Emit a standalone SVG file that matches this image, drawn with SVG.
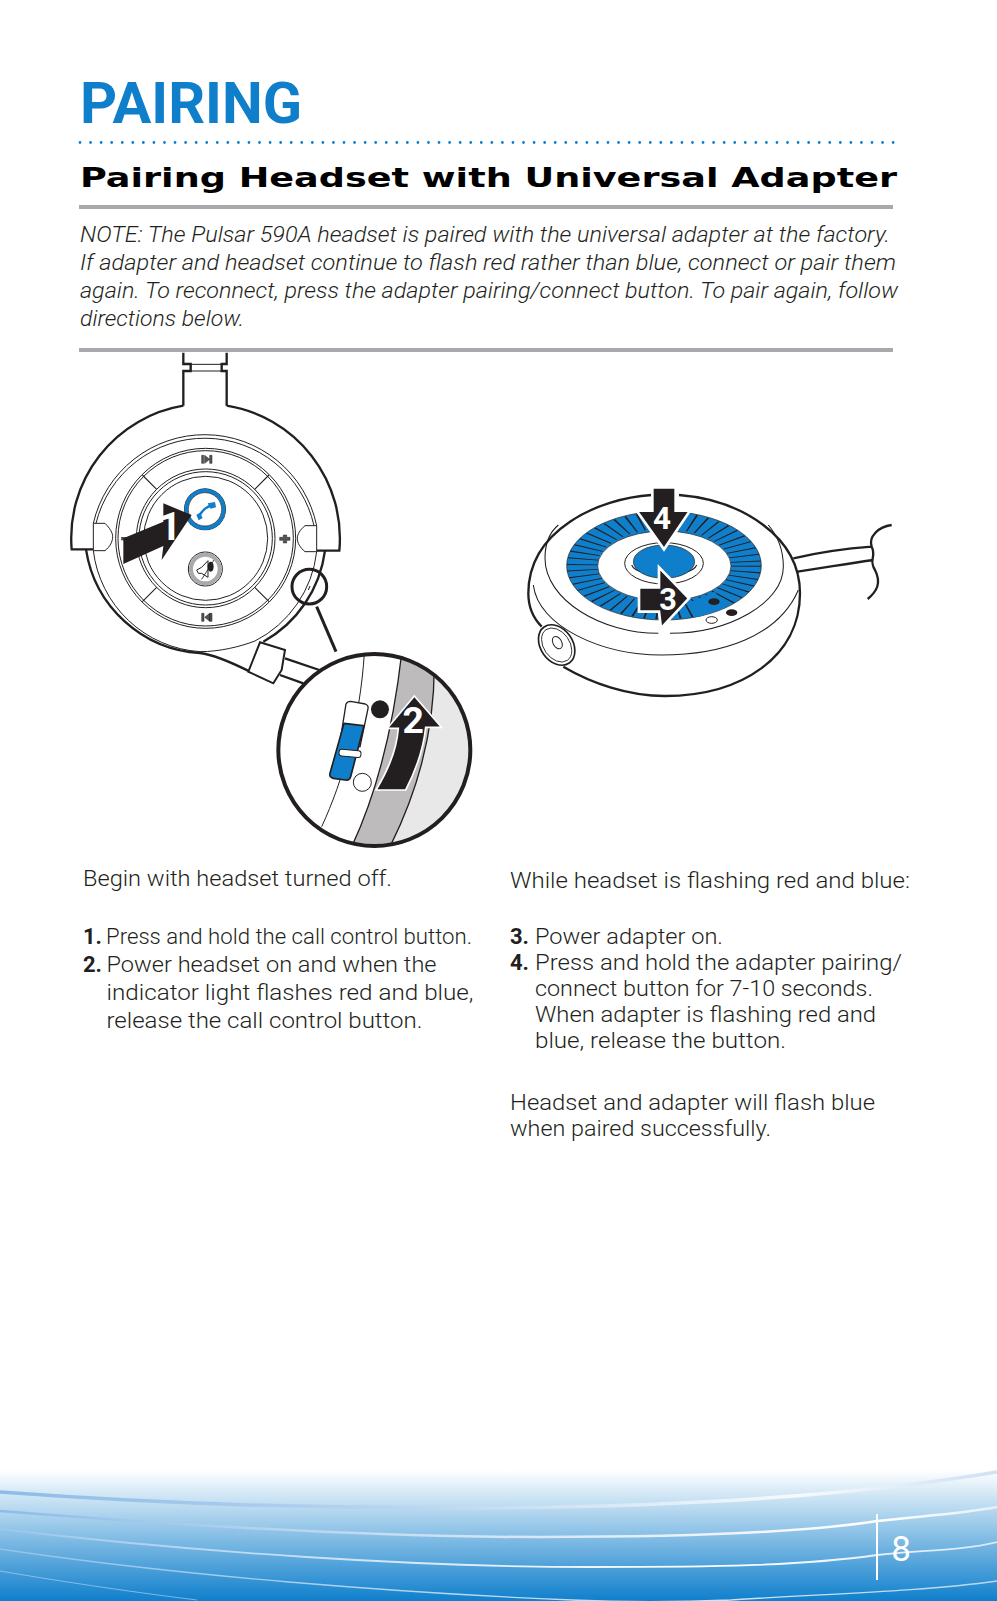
<svg xmlns="http://www.w3.org/2000/svg" width="997" height="1601" viewBox="0 0 997 1601">
<style>
text{font-family:Roboto,"Liberation Sans",sans-serif;fill:#231f20}
.b{font-size:22px;font-weight:300}
.bn{font-size:22px;font-weight:700}
.n{font-size:21.5px;font-weight:300;font-style:italic}
.o{fill:none;stroke:#231f20;stroke-width:7}
.t{fill:none;stroke:#231f20;stroke-width:3}
.m{fill:none;stroke:#231f20;stroke-width:3.2}
.a{fill:#231f20;stroke:#fff;stroke-width:8;stroke-linejoin:miter}
.al{fill:#fff;font-weight:700;text-anchor:middle}
.g{fill:#555;stroke:#231f20;stroke-width:1.5}
</style>
<defs>
<linearGradient id="fg" x1="0" y1="0" x2="0" y2="1"><stop offset="0" stop-color="#fff"/><stop offset="1" stop-color="#0f7fcc"/></linearGradient>
<linearGradient id="c1" x1="0" y1="0" x2="1" y2="0"><stop offset="0" stop-color="#8dbce8"/><stop offset=".4" stop-color="#b9d4ef"/><stop offset=".8" stop-color="#f6fafd"/><stop offset="1" stop-color="#cfe1f4"/></linearGradient>
<linearGradient id="c2" x1="0" y1="0" x2="1" y2="0"><stop offset="0" stop-color="#8dbce8"/><stop offset=".5" stop-color="#d5e5f5"/><stop offset=".88" stop-color="#fff"/><stop offset="1" stop-color="#e5f0fa"/></linearGradient>
<linearGradient id="c3" x1="0" y1="0" x2="1" y2="0"><stop offset="0" stop-color="#9cc6ec"/><stop offset=".7" stop-color="#fff"/><stop offset="1" stop-color="#d8e8f6"/></linearGradient>
<clipPath id="ring"><path clip-rule="evenodd" d="M155,287a292,163 0 1,0 584,0a292,163 0 1,0 -584,0ZM248,288a200,105 0 1,0 400,0a200,105 0 1,0 -400,0Z"/></clipPath>
<clipPath id="lens"><circle cx="343" cy="570" r="288"/></clipPath>
</defs>

<g id="title">
<text x="80" y="123" font-size="57.6" font-weight="700" style="fill:#0f7fcc" textLength="222" lengthAdjust="spacingAndGlyphs">PAIRING</text>
<line x1="80" y1="142.5" x2="895" y2="142.5" stroke="#0f7fcc" stroke-width="2.8" stroke-linecap="round" stroke-dasharray="0 10.56"/>
<text x="80" y="187" font-size="26" font-weight="700" style="font-family:'DejaVu Sans',sans-serif;fill:#000" textLength="817" lengthAdjust="spacingAndGlyphs">Pairing Headset with Universal Adapter</text>
<rect x="79" y="205" width="814" height="4" fill="#a7a9ac"/>
</g>

<g id="note">
<text class="n" x="80" y="241.5" textLength="810" lengthAdjust="spacingAndGlyphs">NOTE: The Pulsar 590A headset is paired with the universal adapter at the factory.</text>
<text class="n" x="80" y="270" textLength="816" lengthAdjust="spacingAndGlyphs">If adapter and headset continue to flash red rather than blue, connect or pair them</text>
<text class="n" x="80" y="298" textLength="818" lengthAdjust="spacingAndGlyphs">again. To reconnect, press the adapter pairing/connect button. To pair again, follow</text>
<text class="n" x="80" y="326" textLength="164" lengthAdjust="spacingAndGlyphs">directions below.</text>
<rect x="79" y="348" width="814" height="4" fill="#a7a9ac"/>
</g>

<g id="headset" transform="translate(60,340) scale(.33333)">
<path class="o" d="M370,38V72H392V93H370V197M500,38V72H485V93H500V197"/>
<rect class="t" x="392" y="73" width="93" height="20"/>
<path class="o" d="M100,628H35A403,403 0 0 1 370,197M500,197A403,403 0 0 1 838,632H770"/>
<path class="o" d="M78,628A367,367 0 0 0 420,939C470,945 530,975 570,995M795,632A367,367 0 0 1 610,905"/>
<path class="t" d="M100,632A345,345 0 0 0 420,935C480,935 540,920 585,903A345,345 0 0 0 770,635"/>
<path class="t" d="M100,550A343,343 0 0 1 770,557M108,550A336,336 0 0 1 762,557"/>
<path fill="#fff" stroke="#231f20" stroke-width="3" d="M100,550H135C150,565 158,578 158,590C158,605 150,620 135,632H100Z"/>
<path fill="#fff" stroke="#231f20" stroke-width="3" d="M770,557H735C720,570 712,582 712,595C712,610 720,622 735,635H770Z"/>
<circle class="t" cx="437" cy="595" r="270"/>
<circle class="t" cx="437" cy="595" r="263"/>
<circle class="t" cx="437" cy="595" r="208"/>
<circle class="t" cx="437" cy="595" r="200"/>
<circle class="t" cx="437" cy="595" r="186"/>
<path class="m" d="M247,405L290,448M627,405L584,448M247,785L290,742M627,785L584,742"/>
<path class="g" d="M425,346h6v24h-6zM434,346l15,12l-15,12zM449,346h7v24h-7z"/>
<path class="g" d="M425,820h7v24h-7zM449,820l-15,12l15,12zM449,820h7v24h-7z"/>
<path class="g" d="M670,585h10v7h10v9h-10v8h-10v-8h-11v-9h11z"/>
<rect class="g" x="185" y="592" width="14" height="8"/>
<circle cx="435" cy="508" r="63" fill="#231f20"/>
<circle cx="435" cy="508" r="56" fill="#fff" stroke="#0f7fcc" stroke-width="12"/>
<circle cx="435" cy="508" r="50" fill="#fff" stroke="#231f20" stroke-width="2"/>
<path d="M416,532C425,512 442,497 460,496" fill="none" stroke="#0f7fcc" stroke-width="8"/>
<path fill="#0f7fcc" d="M443,490L465,486L468,502L452,506ZM409,524L420,518L428,534L416,541Z"/>
<circle cx="436" cy="687" r="51" fill="#fff" stroke="#231f20" stroke-width="3"/>
<circle cx="436" cy="687" r="43" fill="none" stroke="#a7a9ac" stroke-width="12"/>
<path fill="#fff" stroke="#231f20" stroke-width="3" d="M410,690L425,682L444,662V712L425,700L415,700Z"/>
<ellipse cx="452" cy="680" rx="9" ry="15" fill="#231f20"/>
<path d="M425,718L462,660" stroke="#231f20" stroke-width="2.5"/>
<circle cx="748" cy="740" r="52" class="o" style="stroke-width:9"/>
<path d="M770,800L828,935" stroke="#231f20" stroke-width="9"/>
<path d="M745,750l5,-12" stroke="#231f20" stroke-width="3"/>
<path fill="#fff" stroke="#231f20" stroke-width="6" d="M600,907L675,930L665,990L640,1030L565,995Z"/>
<path class="o" d="M675,955L778,990M660,1005L730,1030"/>
<path class="a" style="stroke:none" d="M190,595L310,545V490L395,525L305,660L310,618L190,672Z"/>
<text class="al" x="330" y="600" font-size="118">1</text>
</g>

<g id="lens" transform="translate(260,560) scale(.33333)">
<circle cx="343" cy="570" r="288" fill="#fff"/>
<g clip-path="url(#lens)">
<path fill="#e8e8e9" d="M522,280C530,500 470,700 390,860H700V280Z"/>
<path fill="#bdbbbc" stroke="#231f20" stroke-width="4" d="M425,280C400,500 350,700 275,860H390C470,700 530,500 522,280Z"/>
<path fill="none" stroke="#231f20" stroke-width="3" d="M313,280C300,480 250,660 185,800"/>
<path fill="#fff" stroke="#231f20" stroke-width="4" d="M258,432Q262,424 272,424L316,432Q326,436 324,446L300,560L240,545Z"/>
<path fill="#0f7fcc" stroke="#231f20" stroke-width="5" d="M252,490L312,497L272,650Q268,662 256,660L220,655Q207,652 210,640Z"/>
<rect x="237" y="570" width="66" height="20" rx="8" fill="#fff" stroke="#231f20" stroke-width="3" transform="rotate(5 270 580)"/>
<circle cx="360" cy="448" r="27" fill="#231f20"/>
<circle cx="307" cy="667" r="27" fill="#fff" stroke="#231f20" stroke-width="3"/>
<path class="a" style="stroke-width:5" d="M463,408L545,502H497C490,570 468,630 437,690H348C385,630 410,570 415,505H382Z"/>
<text class="al" x="460" y="520" font-size="112">2</text>
</g>
<circle cx="343" cy="570" r="288" fill="none" stroke="#231f20" stroke-width="12"/>
</g>

<g id="adapter" transform="translate(515,470) scale(.33333)">
<path class="o" d="M835,265C900,250 1000,235 1070,230M848,305C920,295 1000,280 1075,270M1130,165C1090,170 1060,200 1070,230C1085,260 1060,270 1080,300C1100,340 1085,365 1058,387"/>
<path fill="#fff" d="M410,75C250,85 40,180 40,370C40,410 55,445 80,470L145,590C230,640 340,678 450,678C680,678 855,560 855,370C855,200 680,90 492,75Z"/>
<path class="o" d="M410,75C250,85 40,180 40,370C40,410 55,445 80,470M145,590C230,640 340,678 450,678C680,678 855,560 855,370C855,200 680,90 492,75"/>
<path class="m" d="M130,165C100,190 90,230 90,265C90,390 260,490 430,490M465,490C640,490 805,400 805,290C805,240 790,200 760,165"/>
<path class="m" d="M55,345C70,470 260,555 440,555C620,555 790,500 850,360"/>
<ellipse cx="125" cy="525" rx="48" ry="66" transform="rotate(-35 125 525)" fill="#fff" stroke="#231f20" stroke-width="5"/>
<ellipse cx="125" cy="525" rx="39" ry="56" transform="rotate(-35 125 525)" fill="none" stroke="#231f20" stroke-width="2.5"/>
<ellipse cx="127" cy="518" rx="13" ry="20" transform="rotate(-30 127 518)" fill="none" stroke="#231f20" stroke-width="3"/>
<path fill="#0f7fcc" fill-rule="evenodd" stroke="#231f20" stroke-width="2" d="M155,287a292,163 0 1,0 584,0a292,163 0 1,0 -584,0ZM248,288a200,105 0 1,0 400,0a200,105 0 1,0 -400,0Z"/>
<g clip-path="url(#ring)">
<circle cx="447" cy="287" r="246" transform="translate(447 287) scale(1 .55) translate(-447 -287)" fill="none" stroke="#231f20" stroke-width="92" stroke-dasharray="5 26"/>
<path fill="#0f7fcc" d="M530,395L600,365L660,450L540,470Z"/>
</g>
<ellipse cx="447" cy="280" rx="118" ry="62" fill="none" stroke="#231f20" stroke-width="3"/>
<path class="m" d="M350,285C365,325 530,325 545,285"/>
<ellipse cx="447" cy="275" rx="92" ry="50" fill="#0f7fcc" stroke="#231f20" stroke-width="2"/>
<ellipse cx="597" cy="395" rx="17" ry="10" fill="#231f20"/>
<ellipse cx="650" cy="428" rx="17" ry="10" fill="#231f20"/>
<ellipse cx="590" cy="450" rx="17" ry="10" fill="#fff" stroke="#231f20" stroke-width="3"/>
<path class="a" d="M412,52H482V122H525L447,238L365,122H412Z"/>
<text class="al" x="441" y="176" font-size="94">4</text>
<path class="a" d="M372,352H432V292L522,385L438,475L432,425H372Z"/>
<text class="al" x="459" y="420" font-size="92">3</text>
</g>

<g id="left-text">
<text class="b" x="83" y="886" textLength="309" lengthAdjust="spacingAndGlyphs">Begin with headset turned off.</text>
<text class="bn" x="83" y="944">1.</text>
<text class="b" x="106" y="944" textLength="366" lengthAdjust="spacingAndGlyphs">Press and hold the call control button.</text>
<text class="bn" x="83" y="972">2.</text>
<text class="b" x="106.5" y="972" textLength="330" lengthAdjust="spacingAndGlyphs">Power headset on and when the</text>
<text class="b" x="106.5" y="1000" textLength="367" lengthAdjust="spacingAndGlyphs">indicator light flashes red and blue,</text>
<text class="b" x="106.5" y="1028" textLength="316" lengthAdjust="spacingAndGlyphs">release the call control button.</text>
</g>

<g id="right-text">
<text class="b" x="510" y="888" textLength="400" lengthAdjust="spacingAndGlyphs">While headset is flashing red and blue:</text>
<text class="bn" x="510" y="944">3.</text>
<text class="b" x="535" y="944" textLength="188" lengthAdjust="spacingAndGlyphs">Power adapter on.</text>
<text class="bn" x="510" y="970">4.</text>
<text class="b" x="535" y="970" textLength="367" lengthAdjust="spacingAndGlyphs">Press and hold the adapter pairing/</text>
<text class="b" x="535" y="996" textLength="338" lengthAdjust="spacingAndGlyphs">connect button for 7-10 seconds.</text>
<text class="b" x="535" y="1022" textLength="341" lengthAdjust="spacingAndGlyphs">When adapter is flashing red and</text>
<text class="b" x="535" y="1048" textLength="251" lengthAdjust="spacingAndGlyphs">blue, release the button.</text>
<text class="b" x="510" y="1110" textLength="365" lengthAdjust="spacingAndGlyphs">Headset and adapter will flash blue</text>
<text class="b" x="510" y="1136" textLength="261" lengthAdjust="spacingAndGlyphs">when paired successfully.</text>
</g>

<g id="footer">
<rect x="0" y="1470" width="997" height="131" fill="url(#fg)"/>
<path d="M0,1492C150,1503 300,1508 445,1508C680,1508 860,1495 997,1472" fill="none" stroke="url(#c1)" stroke-width="3.5"/>
<path d="M0,1511C200,1527 380,1537 540,1537C680,1537 800,1533 877,1521C920,1516 960,1514 997,1507" fill="none" stroke="url(#c2)" stroke-width="2.5"/>
<path d="M0,1529C200,1553 420,1567 591,1567C710,1567 800,1566 877,1555C920,1550 960,1551 997,1542" fill="none" stroke="url(#c3)" stroke-width="1.8"/>
<path d="M0,1549C180,1576 400,1593 572,1600C620,1602 680,1602 731,1600C820,1594 920,1592 997,1581" fill="none" stroke="url(#c3)" stroke-width="1.3" opacity=".8"/>
<path d="M0,1571C70,1583 140,1593 197,1600" fill="none" stroke="#a8cdef" stroke-width="1" opacity=".7"/>
<rect x="876" y="1514" width="2" height="66" fill="#fff"/>
<text x="901" y="1561" font-size="35" font-weight="400" text-anchor="middle" style="fill:#fff">8</text>
</g>
</svg>
